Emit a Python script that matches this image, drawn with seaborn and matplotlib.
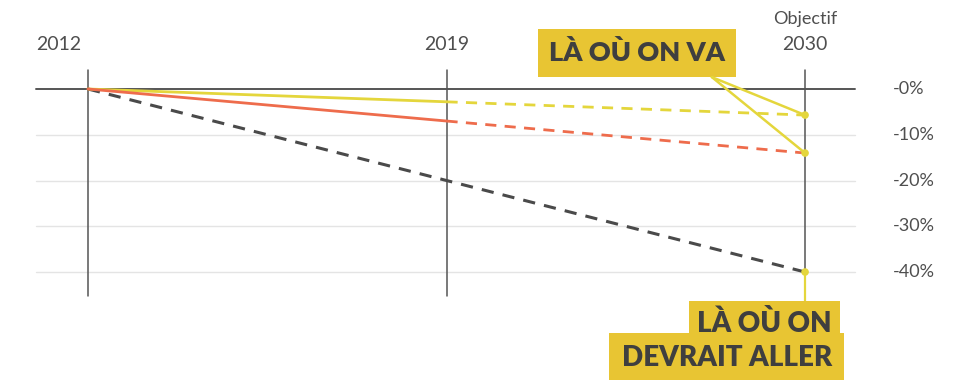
import matplotlib
matplotlib.use("Agg")
import matplotlib.pyplot as plt
import seaborn as sns
import pandas as pd

years = ["2012", "2019", "2030"]
tick_labels = ["-0%", "-10%", "-20%", "-30%", "-40%"]
tick_values = [0, -10, -20, -30, -40]

# réel / tendance
yellow_real = [0, -2.8]
yellow_trend = [-2.8, -5.7]
red_real = [0, -7]
red_trend = [-7, -14]
# objectif
target = [0, -20, -40]

YELLOW_LINE = "#E4D63C"
YELLOW_BOX = "#E8C533"
RED = "#EE6C4C"
DARK = "#4a4a4a"
TEXT = "#3f3f3f"
LABEL = "#4f4f4f"

sns.set_theme(style="white")
plt.rcParams["font.family"] = ["Lato", "DejaVu Sans"]

fig = plt.figure(figsize=(9.75, 3.8), dpi=100)
ax = fig.add_axes([0, 0, 1, 1])
ax.set_xlim(-0.2455, 2.474)
ax.set_ylim(-63.6, 19.45)
ax.axis("off")

xpos = list(range(len(years)))

# grid
for v in tick_values[1:]:
    ax.plot([-0.144, 2.139], [v, v], color="#e4e4e4", lw=1, zorder=1)
ax.plot([-0.144, 2.139], [0, 0], color="#555555", lw=1.4, zorder=2)

# verticals
for x in xpos[:2]:
    ax.plot([x, x], [4.2, -45.2], color="#555555", lw=1.1, zorder=2)
ax.plot([2, 2], [4.2, -40], color="#555555", lw=1.1, zorder=2)
ax.plot([2, 2], [-40, -46.5], color=YELLOW_LINE, lw=1.6, zorder=2)

def draw(xs, ys, color, dashed, lw):
    df = pd.DataFrame({"x": xs, "y": ys})
    sns.lineplot(data=df, x="x", y="y", ax=ax, color=color, lw=lw,
                 linestyle=(0, (4, 3)) if dashed else "-", zorder=3,
                 estimator=None)

draw(xpos, target, DARK, True, 2.2)
draw(xpos[:2], yellow_real, YELLOW_LINE, False, 2)
draw(xpos[1:], yellow_trend, YELLOW_LINE, True, 2)
draw(xpos[:2], red_real, RED, False, 2)
draw(xpos[1:], red_trend, RED, True, 2)

# leader lines
for yv in [yellow_trend[-1], red_trend[-1]]:
    ax.plot([1.74, 2], [2.6, yv], color=YELLOW_LINE, lw=1.8, zorder=4)

sns.scatterplot(x=[2, 2, 2], y=[yellow_trend[-1], red_trend[-1], target[-1]],
                ax=ax, color=YELLOW_LINE, s=30, edgecolor="none", zorder=5)
ax.set_xlabel("")
ax.set_ylabel("")

# y tick labels
for v, lab in zip(tick_values, tick_labels):
    ax.text(2.244, v, lab, ha="left", va="center", fontsize=13, color=LABEL)

# year labels
ax.text(-0.144, 9.8, years[0], ha="left", va="center", fontsize=14, color=LABEL)
ax.text(1, 9.8, years[1], ha="center", va="center", fontsize=14, color=LABEL)
ax.text(2, 9.8, years[2], ha="center", va="center", fontsize=14, color=LABEL)
ax.text(2, 15.3, "Objectif", ha="center", va="center", fontsize=13, color=LABEL)

# boxes
ax.text(1.531, 7.9, "LÀ OÙ ON VA", ha="center", va="center", fontsize=19.5,
        fontweight="heavy", color=TEXT,
        bbox=dict(boxstyle="square,pad=0.42", fc=YELLOW_BOX, ec="none"))
ax.text(2.075, -51.2, "LÀ OÙ ON", ha="right", va="center", fontsize=20,
        fontweight="heavy", color=TEXT,
        bbox=dict(boxstyle="square,pad=0.3", fc=YELLOW_BOX, ec="none"))
ax.text(2.075, -58.8, "DEVRAIT ALLER", ha="right", va="center", fontsize=20,
        fontweight="heavy", color=TEXT,
        bbox=dict(boxstyle="square,pad=0.45", fc=YELLOW_BOX, ec="none"))

fig.savefig("out.png", dpi=100)
